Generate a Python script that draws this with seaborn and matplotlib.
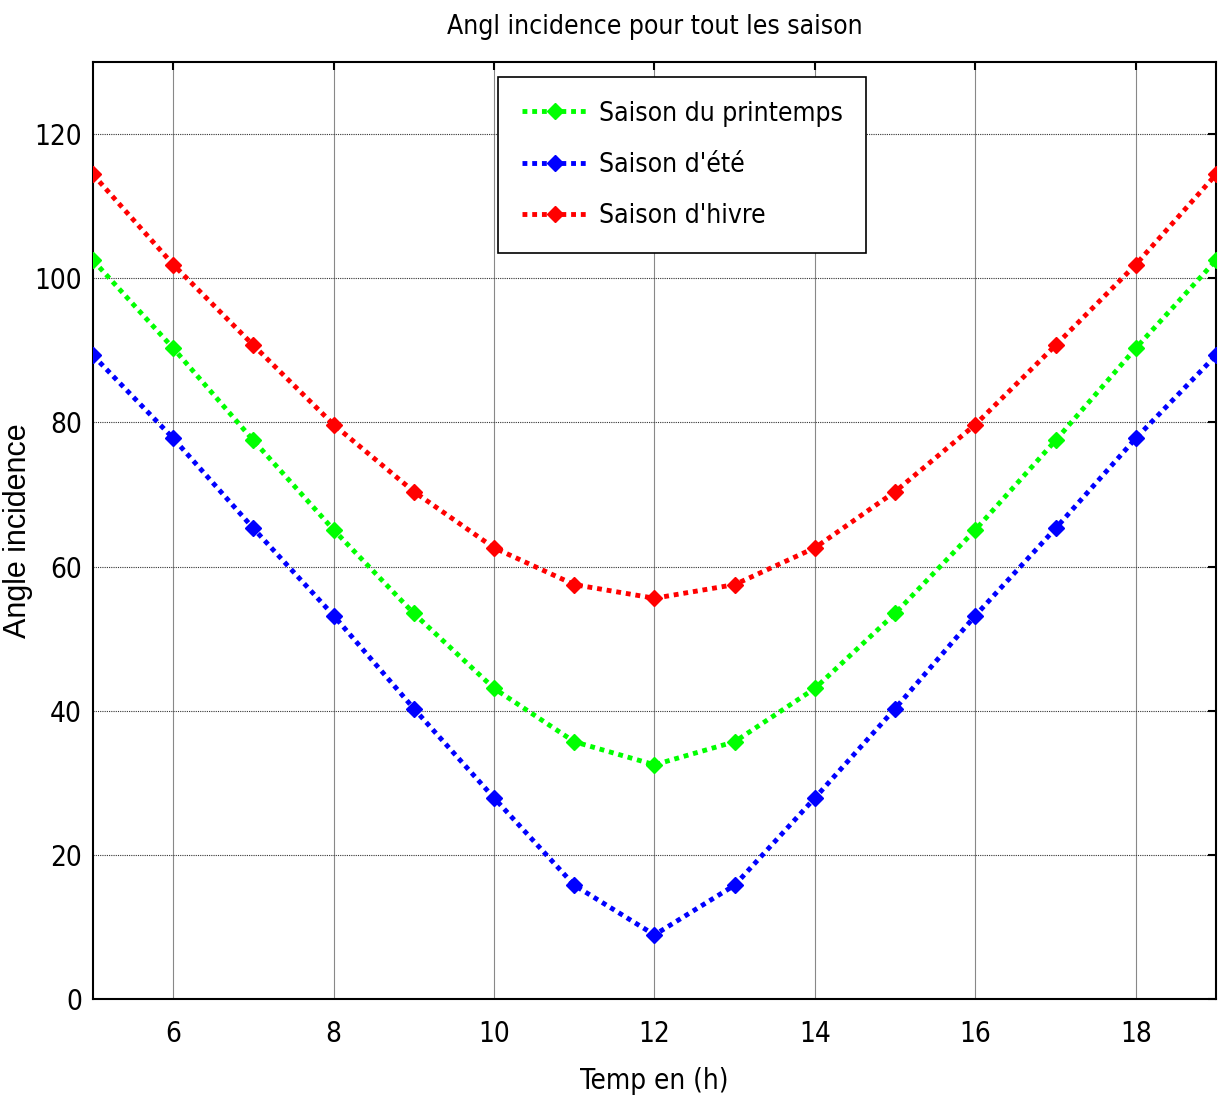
import matplotlib
matplotlib.use("Agg")
import matplotlib.pyplot as plt
import seaborn as sns
import pandas as pd

hours = [5, 6, 7, 8, 9, 10, 11, 12, 13, 14, 15, 16, 17, 18, 19]
printemps = [102.5, 90.3, 77.5, 65.1, 53.5, 43.1, 35.7, 32.5, 35.7, 43.1, 53.5, 65.1, 77.5, 90.3, 102.5]
ete = [89.3, 77.8, 65.3, 53.2, 40.3, 27.9, 15.8, 8.9, 15.8, 27.9, 40.3, 53.2, 65.3, 77.8, 89.3]
hiver = [114.4, 101.9, 90.7, 79.7, 70.4, 62.6, 57.5, 55.6, 57.5, 62.6, 70.4, 79.7, 90.7, 101.9, 114.4]
labels = ["Saison du printemps", "Saison d'été", "Saison d'hivre"]
colors = ["#00ff00", "#0000ff", "#ff0000"]
xticks = [6, 8, 10, 12, 14, 16, 18]
yticks = [0, 20, 40, 60, 80, 100, 120]

sns.set_style("white")
plt.rcParams['font.family'] = ["DejaVu Sans"]
plt.rcParams['font.stretch'] = "condensed"
plt.rcParams['text.color'] = "black"
plt.rcParams['axes.labelcolor'] = "black"
plt.rcParams['xtick.color'] = "black"
plt.rcParams['ytick.color'] = "black"

df = pd.concat([
    pd.DataFrame({"h": hours, "v": vals, "s": lab})
    for vals, lab in zip([printemps, ete, hiver], labels)
])

fig = plt.figure(figsize=(12.23, 11.01), dpi=100)
ax = fig.add_axes([0.076, 0.0926, 0.9183, 0.8511])

for lab, col in zip(labels, colors):
    sub = df[df["s"] == lab]
    sns.lineplot(data=sub, x="h", y="v", ax=ax, color=col, linestyle=(0, (1, 1)),
                 linewidth=3.5, marker="D", markersize=8.5, markeredgewidth=1,
                 markeredgecolor=col, label=lab, zorder=3)

ax.set_xlim(5, 19)
ax.set_ylim(0, 130)
ax.set_xticks(xticks)
ax.set_yticks(yticks)
ax.tick_params(axis="both", labelsize=20, direction="in", length=6, width=1.5)
ax.tick_params(axis="x", pad=15)
ax.tick_params(axis="y", pad=8)
ax.tick_params(top=True, right=True)
ax.xaxis.grid(True, color="#888888", linewidth=0.8, linestyle="-")
ax.yaxis.grid(True, color="#333333", linewidth=0.8, linestyle=(0, (1, 1)))
for sp in ax.spines.values():
    sp.set_linewidth(1.5)
    sp.set_color("black")

ax.set_title("Angl incidence pour tout les saison", fontsize=19, pad=20)
ax.set_xlabel("Temp en (h)", fontsize=20, labelpad=14)
ax.set_ylabel("Angle incidence", fontsize=22, family=["Liberation Sans", "DejaVu Sans"],
              fontstretch="normal")
ax.yaxis.set_label_coords(-0.053, 0.5)

leg = ax.legend(loc="upper left", bbox_to_anchor=(0.361, 0.984), fontsize=19, frameon=True,
                fancybox=False, edgecolor="black", framealpha=1, handlelength=2.5,
                handletextpad=0.4, borderpad=0.9, labelspacing=0.95, borderaxespad=0)
leg.get_frame().set_linewidth(1.2)

fig.savefig("out.png", dpi=100)
